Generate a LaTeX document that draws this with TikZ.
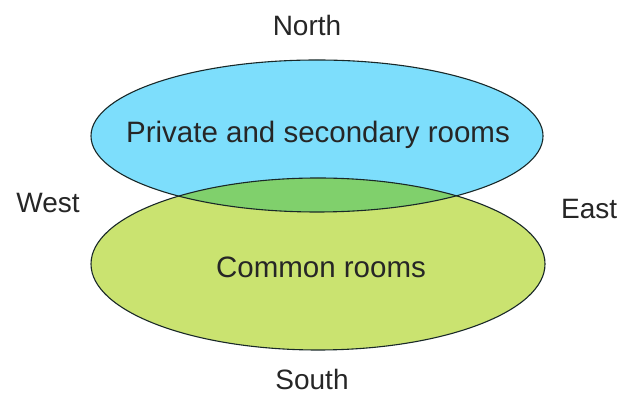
\documentclass[tikz,border=0pt]{standalone}
\usepackage{fontspec}
\setmainfont{Liberation Sans}
\definecolor{roomblue}{RGB}{125,222,252}
\definecolor{roomgreen}{RGB}{202,227,112}
\definecolor{overlapgreen}{RGB}{128,208,108}
\definecolor{edge}{RGB}{25,40,40}
\tikzset{
  zone/.style={draw=edge, line width=1.1pt},
  lbl/.style={anchor=base, font=\fontsize{29.5}{34}\selectfont, text=black!85},
  dir/.style={anchor=base, inner sep=0pt, font=\fontsize{28}{32}\selectfont, text=black!85}
}
\begin{document}
\begin{tikzpicture}[x=1pt,y=1pt]
\useasboundingbox[fill=white] (0,0) rectangle (620,395);

\fill[roomblue] (317,259) ellipse [x radius=226, y radius=76];
\fill[roomgreen] (318,131) ellipse [x radius=227, y radius=86];
\begin{scope}
\clip (317,259) ellipse [x radius=226, y radius=76];
\fill[overlapgreen] (318,131) ellipse [x radius=227, y radius=86];
\end{scope}
\draw[zone] (317,259) ellipse [x radius=226, y radius=76];
\draw[zone] (318,131) ellipse [x radius=227, y radius=86];

\node[lbl] (private) at (318,252) {Private and secondary rooms};
\node[lbl] (common) at (321,117) {Common rooms};

\node[dir] (north) at (307,359) {North};
\node[dir] (south) at (312,5) {South};
\node[dir] (west) at (48,182) {West};
\node[dir, anchor=base west] (east) at (561,176) {East};
\end{tikzpicture}
\end{document}
